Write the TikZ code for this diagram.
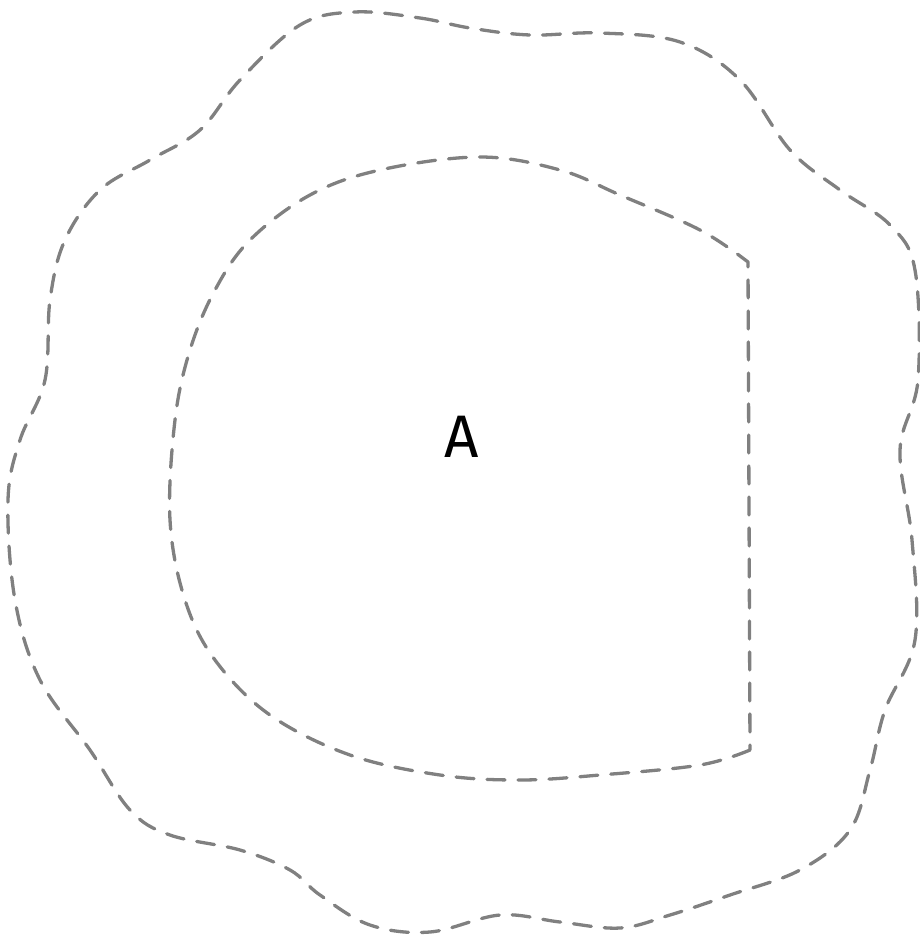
\documentclass[tikz,border=0pt]{standalone}
\usepackage{fontspec}
\setmainfont{Fira Sans}
\begin{document}
\begin{tikzpicture}[x=1pt,y=-1pt,
  blob/.style={draw={rgb,255:red,128;green,128;blue,128}, line width=3.3pt, dash pattern=on 18pt off 13pt, line cap=round, line join=round}]
\useasboundingbox (0,0) rectangle (920,940);
\draw[blob] plot[smooth cycle, tension=0.6] coordinates {
 (355,12) (420,18) (470,28) (530,35) (600,33) (680,42) (740,80) (790,150) (840,190) (890,225) (915,270) (918,380) (900,450) (912,540) (915,640) (885,710) (870,770) (850,830) (800,870) (730,895) (670,915) (620,928) (560,922) (500,915) (430,932) (370,925) (320,895) (290,870) (240,850) (170,835) (130,810) (90,750) (40,680) (15,600) (8,500) (20,440) (45,380) (50,300) (65,240) (100,190) (150,160) (200,130) (240,80) (300,25)};
\draw[blob] plot[smooth, tension=0.6] coordinates {
 (750,750) (700,765) (600,775) (520,780) (440,775) (350,755) (270,715) (215,660) (185,600) (170,520) (175,420) (190,350) (215,290) (250,240) (310,195) (380,170) (480,157) (560,170) (620,195) (700,230) (748,262)} -- cycle;
\node[font=\fontsize{60}{60}\selectfont] (A) at (462,437) {A};
\end{tikzpicture}
\end{document}
